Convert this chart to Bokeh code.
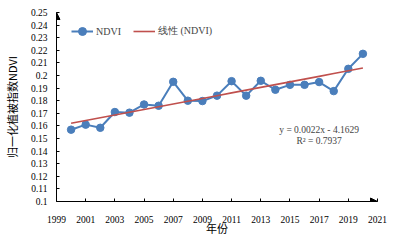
import numpy as np
from bokeh.plotting import figure
from bokeh.models import (ColumnDataSource, FixedTicker, Legend, LegendItem, Label,
                          Arrow, NormalHead, Range1d)
from bokeh.embed import file_html
from bokeh.resources import INLINE

years = list(range(2000, 2021))
ndvi = [0.157, 0.161, 0.1585, 0.171, 0.1705, 0.177, 0.176, 0.195, 0.180, 0.1797,
        0.184, 0.1955, 0.184, 0.1958, 0.1887, 0.1926, 0.1926, 0.1948, 0.1876,
        0.2053, 0.2172]
x_ticks = list(range(1999, 2022, 2))
y_ticks = [round(0.1 + 0.01 * i, 2) for i in range(16)]
eq_text = "y = 0.0022x - 4.1629"
r2_text = "R² = 0.7937"
x_title = "年份"
y_title = "归一化植被指数NDVI"

slope, intercept = np.polyfit(years, ndvi, 1)
trend = [slope * y + intercept for y in years]

SERIF = "Liberation Serif"
CJK = "Noto Sans CJK SC"
BLUE = "#4A7EBB"
RED = "#C0504D"

p = figure(frame_width=321, frame_height=189, output_backend="svg", toolbar_location=None,
           x_range=Range1d(1999, 2021), y_range=Range1d(0.1, 0.25),
           min_border_left=48, min_border_right=13, min_border_top=12,
           min_border_bottom=30)
p.outline_line_color = None
p.xgrid.grid_line_color = None
p.ygrid.grid_line_color = None

src = ColumnDataSource(dict(x=years, y=ndvi, t=trend))
r_line = p.line("x", "y", source=src, line_color=BLUE, line_width=2)
r_pts = p.scatter("x", "y", source=src, size=7.5, fill_color=BLUE, line_color=BLUE)
r_tr = p.line("x", "t", source=src, line_color=RED, line_width=1.6)

for ax in (p.xaxis[0], p.yaxis[0]):
    ax.axis_line_color = "#000000"
    ax.major_tick_line_color = "#000000"
    ax.major_tick_in = 3
    ax.major_tick_out = 0
    ax.minor_tick_line_color = None
    ax.major_label_text_font = SERIF
    ax.major_label_text_font_size = "9.5px"
    ax.major_label_text_color = "#000000"
    ax.axis_label_text_font_style = "normal"
    ax.axis_label_text_color = "#000000"
    ax.axis_label_text_font_size = "11px"

p.xaxis.ticker = FixedTicker(ticks=x_ticks)
p.yaxis.ticker = FixedTicker(ticks=y_ticks)
p.xaxis.major_label_standoff = 14
p.yaxis.major_label_standoff = 9
p.xaxis.axis_label = x_title
p.xaxis.axis_label_text_font = CJK
p.xaxis.axis_label_standoff = -6
p.yaxis.axis_label = y_title
p.yaxis.axis_label_text_font = CJK
p.yaxis.axis_label_standoff = 8

legend = Legend(items=[LegendItem(label="NDVI", renderers=[r_line, r_pts]),
                       LegendItem(label="线性 (NDVI)", renderers=[r_tr])],
                orientation="horizontal", location=(15, 160),
                background_fill_alpha=0, border_line_color=None,
                label_text_font=SERIF, label_text_font_size="10px",
                glyph_width=22, spacing=12, label_standoff=3, padding=4)
p.add_layout(legend, "center")

p.add_layout(Label(x=2017.0, y=0.1568, text=eq_text, text_align="center",
                   text_baseline="middle", text_font=SERIF, text_font_size="9.5px"))
p.add_layout(Label(x=2017.0, y=0.1478, text=r2_text, text_align="center",
                   text_baseline="middle", text_font=SERIF, text_font_size="9.5px"))

p.add_layout(Arrow(end=NormalHead(size=7, fill_color="#000000", line_color="#000000"),
                   x_start=2019, y_start=0.1, x_end=2021, y_end=0.1,
                   line_color="#000000", line_width=1))
p.add_layout(Arrow(end=NormalHead(size=7, fill_color="#000000", line_color="#000000"),
                   x_start=1999, y_start=0.24, x_end=1999, y_end=0.25,
                   line_color="#000000", line_width=1))

open("out.html", "w").write(file_html(p, INLINE))
